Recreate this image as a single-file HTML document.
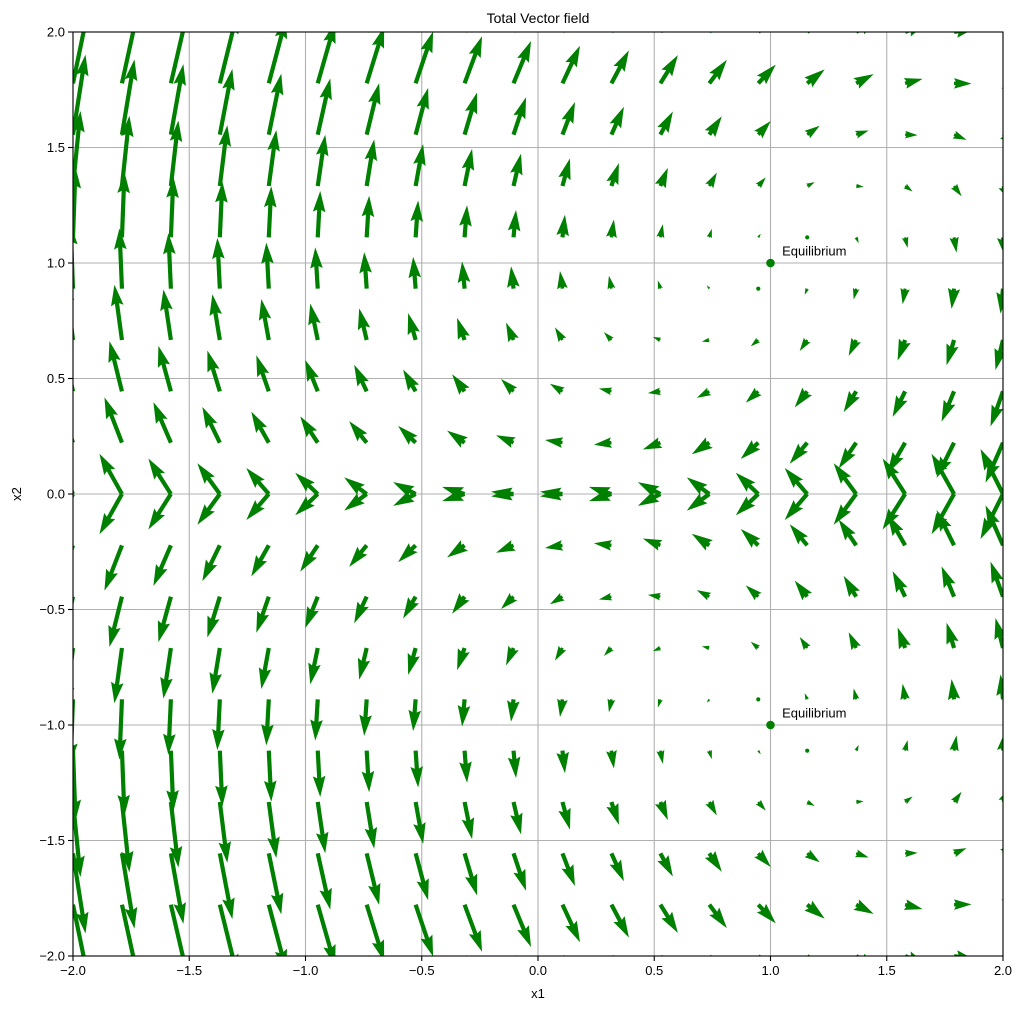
<!DOCTYPE html>
<html><head><meta charset="utf-8"><style>
html,body{margin:0;padding:0;background:#fff;}
svg{display:block;font-family:"Liberation Sans","DejaVu Sans",sans-serif;}
</style></head><body>
<svg id="chart" width="1023" height="1009" viewBox="0 0 1023 1009" xmlns="http://www.w3.org/2000/svg">
<rect width="1023" height="1009" fill="#fff"/>
<text x="538" y="23" font-size="14" text-anchor="middle" fill="#000">Total Vector field</text>
<g id="grid"></g>
<defs><clipPath id="axclip"><rect x="73" y="32" width="930" height="924"/></clipPath></defs>
<g id="arrows" clip-path="url(#axclip)"></g>
<g id="eq"></g>
<rect x="73" y="32" width="930" height="924" fill="none" stroke="#000" stroke-width="1.1"/>
<g id="ticks"></g>
<text x="538" y="998" font-size="13" text-anchor="middle" fill="#000">x1</text>
<text x="21" y="494" font-size="13" text-anchor="middle" fill="#000" transform="rotate(-90 21 494)">x2</text>
</svg>
<script>
// data
const xCols = [];
for (let k = 0; k < 20; k++) xCols.push(-2 + 4 * k / 19);
const yRowsUpper = [0, 0.2222, 0.4444, 0.6667, 0.8889, 1.1111, 1.3333, 1.5556, 1.7778, 2.0];
const yRowsLower = [-2.0, -1.7778, -1.5556, -1.3333, -1.1111, -0.8889, -0.6667, -0.4444, -0.2222, 0];
const xTicks = [-2.0, -1.5, -1.0, -0.5, 0.0, 0.5, 1.0, 1.5, 2.0];
const yTicks = [-2.0, -1.5, -1.0, -0.5, 0.0, 0.5, 1.0, 1.5, 2.0];
const equilibria = [[1, 1], [1, -1]];
const eqLabels = ["Equilibrium", "Equilibrium"];

const NS = "http://www.w3.org/2000/svg";
const X0 = 73, X1 = 1003, Y0 = 956, Y1 = 32;
const sx = v => X0 + (v + 2) / 4 * (X1 - X0);
const sy = v => Y0 - (v + 2) / 4 * (Y0 - Y1);
const SCALE = 22.5, W = 4.2;

// field: x1' = |x2| - 1, x2' = x2 - x1*s  (s = +1 upper half, -1 lower half)
function field(x1, x2, s) { return [Math.abs(x2) - 1, x2 - x1 * s]; }

const grid = document.getElementById('grid');
xTicks.forEach(t => {
  const l = document.createElementNS(NS, 'line');
  
  
  l.setAttribute('x1', sx(t)); l.setAttribute('x2', sx(t)); l.setAttribute('y1', Y1); l.setAttribute('y2', Y0);
  l.setAttribute('stroke', '#b0b0b0'); l.setAttribute('stroke-width', '1.1');
  grid.appendChild(l);
});
yTicks.forEach(t => {
  const l = document.createElementNS(NS, 'line');
  
  
  l.setAttribute('y1', sy(t)); l.setAttribute('y2', sy(t)); l.setAttribute('x1', X0); l.setAttribute('x2', X1);
  l.setAttribute('stroke', '#b0b0b0'); l.setAttribute('stroke-width', '1.1');
  grid.appendChild(l);
});

const arrows = document.getElementById('arrows');
function drawArrow(x1, x2, s) {
  const [u, v] = field(x1, x2, s);
  const L = Math.hypot(u, v) * SCALE;
  const tx = sx(x1), ty = sy(x2);
  const ang = Math.atan2(-v, u) * 180 / Math.PI;
  let el;
  if (L < W) {
    el = document.createElementNS(NS, 'circle');
    el.setAttribute('cx', tx); el.setAttribute('cy', ty); el.setAttribute('r', W * 0.5);
  } else {
    let len = L, k = 1;
    if (L < 5 * W) { len = 5 * W; k = L / (5 * W); }
    const p = [[0, W / 2], [len - 4.5 * W, W / 2], [len - 5 * W, 1.5 * W], [len, 0],
               [len - 5 * W, -1.5 * W], [len - 4.5 * W, -W / 2], [0, -W / 2]];
    el = document.createElementNS(NS, 'polygon');
    el.setAttribute('points', p.map(q => (q[0] * k).toFixed(2) + ',' + (q[1] * k).toFixed(2)).join(' '));
    el.setAttribute('transform', `translate(${tx.toFixed(2)},${ty.toFixed(2)}) rotate(${ang.toFixed(2)})`);
  }
  
  
  el.setAttribute('fill', '#008000');
  arrows.appendChild(el);
}
yRowsLower.forEach(y => xCols.forEach(x => drawArrow(x, y, -1)));
yRowsUpper.forEach(y => xCols.forEach(x => drawArrow(x, y, 1)));

const eq = document.getElementById('eq');
equilibria.forEach((p, i) => {
  const c = document.createElementNS(NS, 'circle');
  
  
  c.setAttribute('cx', sx(p[0])); c.setAttribute('cy', sy(p[1])); c.setAttribute('r', 4.3);
  c.setAttribute('fill', '#008000');
  eq.appendChild(c);
  const t = document.createElementNS(NS, 'text');
  
  
  t.setAttribute('x', sx(p[0] + 0.05)); t.setAttribute('y', sy(p[1] + 0.05) + 4);
  t.setAttribute('font-size', '13'); t.setAttribute('fill', '#000');
  t.textContent = eqLabels[i];
  eq.appendChild(t);
});

const ticks = document.getElementById('ticks');
const fmt = t => (t < 0 ? '\u2212' : '') + Math.abs(t).toFixed(1);
xTicks.forEach(t => {
  const l = document.createElementNS(NS, 'line');
  
  
  l.setAttribute('x1', sx(t)); l.setAttribute('x2', sx(t)); l.setAttribute('y1', Y0); l.setAttribute('y2', Y0 + 5);
  l.setAttribute('stroke', '#000'); l.setAttribute('stroke-width', '1.1');
  ticks.appendChild(l);
  const tx = document.createElementNS(NS, 'text');
  
  
  tx.setAttribute('x', sx(t)); tx.setAttribute('y', Y0 + 19);
  tx.setAttribute('font-size', '13'); tx.setAttribute('text-anchor', 'middle');
  tx.textContent = fmt(t);
  ticks.appendChild(tx);
});
yTicks.forEach(t => {
  const l = document.createElementNS(NS, 'line');
  
  
  l.setAttribute('y1', sy(t)); l.setAttribute('y2', sy(t)); l.setAttribute('x1', X0 - 5); l.setAttribute('x2', X0);
  l.setAttribute('stroke', '#000'); l.setAttribute('stroke-width', '1.1');
  ticks.appendChild(l);
  const tx = document.createElementNS(NS, 'text');
  
  
  tx.setAttribute('x', X0 - 8); tx.setAttribute('y', sy(t) + 4.5);
  tx.setAttribute('font-size', '13'); tx.setAttribute('text-anchor', 'end');
  tx.textContent = fmt(t);
  ticks.appendChild(tx);
});
</script>
</body></html>
